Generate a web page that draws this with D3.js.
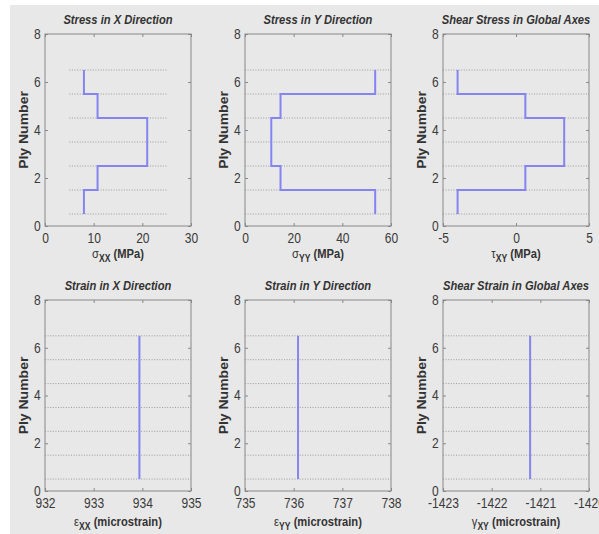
<!DOCTYPE html>
<html>
<head>
<meta charset="utf-8">
<script src="https://cdn.jsdelivr.net/npm/d3@7"></script>
<style>
  body { margin: 0; background: #fff; }
  svg { display: block; font-family: "Liberation Sans", Arial, sans-serif; }
  .tick text { fill: #3a3a3a; font-size: 14px; }
  .domain { display: none; }
  .tick line { stroke: #888; }
</style>
</head>
<body>
<svg width="599" height="534"></svg>
<script>
var svg = d3.select('svg');

// ply numbers and the ply boundaries (dotted lines)
var plies = [1, 2, 3, 4, 5, 6];
var plyBounds = [0.5, 1.5, 2.5, 3.5, 4.5, 5.5, 6.5];
var yTicks = [0, 2, 4, 6, 8];

// values per ply
var sigmaXX = [8.0, 10.8, 21.0, 21.0, 10.8, 8.0];
var sigmaYY = [53.5, 14.6, 10.8, 10.8, 14.6, 53.5];
var tauXY = [-4.0, 0.64, 3.3, 3.3, 0.64, -4.0];
var epsXX = [933.94, 933.94, 933.94, 933.94, 933.94, 933.94];
var epsYY = [736.09, 736.09, 736.09, 736.09, 736.09, 736.09];
var gammaXY = [-1421.21, -1421.21, -1421.21, -1421.21, -1421.21, -1421.21];

var xTicks1 = [0, 10, 20, 30];
var xTicks2 = [0, 20, 40, 60];
var xTicks3 = [-5, 0, 5];
var xTicks4 = [932, 933, 934, 935];
var xTicks5 = [735, 736, 737, 738];
var xTicks6 = [-1423, -1422, -1421, -1420];

var panels = [
  {title: 'Stress in X Direction', sym: 'σ', sub: 'XX', unit: ' (MPa)', vals: sigmaXX, ticks: xTicks1, grid: [5, 25]},
  {title: 'Stress in Y Direction', sym: 'σ', sub: 'YY', unit: ' (MPa)', vals: sigmaYY, ticks: xTicks2, grid: [0, 60]},
  {title: 'Shear Stress in Global Axes', sym: 'τ', sub: 'XY', unit: ' (MPa)', vals: tauXY, ticks: xTicks3, grid: [-5, 5]},
  {title: 'Strain in X Direction', sym: 'ε', sub: 'XX', unit: ' (microstrain)', vals: epsXX, ticks: xTicks4, grid: [932, 935]},
  {title: 'Strain in Y Direction', sym: 'ε', sub: 'YY', unit: ' (microstrain)', vals: epsYY, ticks: xTicks5, grid: [735, 738]},
  {title: 'Shear Strain in Global Axes', sym: 'γ', sub: 'XY', unit: ' (microstrain)', vals: gammaXY, ticks: xTicks6, grid: [-1423, -1420]}
];

var lefts = [45, 245, 443];
var rows = [{top: 34, bottom: 226, lab: 32}, {top: 300, bottom: 491, lab: 35}];
var w = 146;
var sx = 0.86; // text is squeezed sideways in the picture

svg.append('rect')
  .attr('x', 10).attr('y', 5)
  .attr('width', 599).attr('height', 534)
  .attr('fill', '#e8e8e8');

panels.forEach(function(p, k) {
  var row = rows[Math.floor(k / 3)];
  var left = lefts[k % 3];
  var ext = d3.extent(p.ticks);

  var x = d3.scaleLinear().domain(ext).range([left, left + w]);
  var y = d3.scaleLinear().domain([0, 8]).range([row.bottom, row.top]);

  var g = svg.append('g');

  // dotted ply boundaries
  g.selectAll('.grid')
    .data(plyBounds)
    .enter()
    .append('line')
    .attr('x1', x(p.grid[0]))
    .attr('x2', x(p.grid[1]))
    .attr('y1', function(d) { return y(d); })
    .attr('y2', function(d) { return y(d); })
    .attr('stroke', '#9a9a9a')
    .attr('stroke-dasharray', '1,1.6');

  // step line, one vertical piece per ply
  var pts = [];
  plies.forEach(function(n, i) {
    pts.push([p.vals[i], n - 0.5]);
    pts.push([p.vals[i], n + 0.5]);
  });
  g.append('path')
    .datum(pts)
    .attr('fill', 'none')
    .attr('stroke', '#8484f2')
    .attr('stroke-width', 2)
    .attr('d', d3.line()
      .x(function(d) { return x(d[0]); })
      .y(function(d) { return y(d[1]); }));

  // axes, ticks pointing inward
  var bx = g.append('g')
    .attr('transform', 'translate(0,' + row.bottom + ')')
    .call(d3.axisBottom(x).tickValues(p.ticks).tickSize(-3).tickPadding(7)
      .tickFormat(function(d) { return String(d); }));
  bx.selectAll('text').attr('transform', 'scale(' + sx + ',1)');

  var ly = g.append('g')
    .attr('transform', 'translate(' + left + ',0)')
    .call(d3.axisLeft(y).tickValues(yTicks).tickSize(-3).tickPadding(5));
  ly.selectAll('text').attr('transform', 'scale(' + sx + ',1)');

  g.append('g')
    .attr('transform', 'translate(0,' + row.top + ')')
    .call(d3.axisTop(x).tickValues(p.ticks).tickSize(-3).tickFormat(''));
  g.append('g')
    .attr('transform', 'translate(' + (left + w) + ',0)')
    .call(d3.axisRight(y).tickValues(yTicks).tickSize(-3).tickFormat(''));

  // box
  g.append('rect')
    .attr('x', left).attr('y', row.top)
    .attr('width', w).attr('height', row.bottom - row.top)
    .attr('fill', 'none')
    .attr('stroke', '#888');

  // title
  g.append('text')
    .attr('transform', 'translate(' + (left + w / 2) + ',' + (row.top - 10) + ') scale(' + sx + ',1)')
    .attr('text-anchor', 'middle')
    .attr('font-size', 13)
    .attr('font-weight', 'bold')
    .attr('font-style', 'italic')
    .attr('fill', '#333')
    .text(p.title);

  // y label
  g.append('text')
    .attr('transform', 'translate(' + (left - 17) + ',' + ((row.top + row.bottom) / 2) + ') scale(' + sx + ',1) rotate(-90)')
    .attr('text-anchor', 'middle')
    .attr('font-size', 14)
    .attr('font-weight', 'bold')
    .attr('fill', '#333')
    .text('Ply Number');

  // x label with subscript
  var xl = g.append('text')
    .attr('transform', 'translate(' + (left + w / 2) + ',' + (row.bottom + row.lab) + ') scale(' + sx + ',1)')
    .attr('text-anchor', 'middle')
    .attr('font-size', 13)
    .attr('fill', '#333');
  xl.append('tspan').text(p.sym);
  xl.append('tspan').attr('dy', 4).attr('font-size', 10).attr('font-weight', 'bold').text(p.sub);
  xl.append('tspan').attr('dy', -4).attr('font-weight', 'bold').text(p.unit);
});
</script>
</body>
</html>
